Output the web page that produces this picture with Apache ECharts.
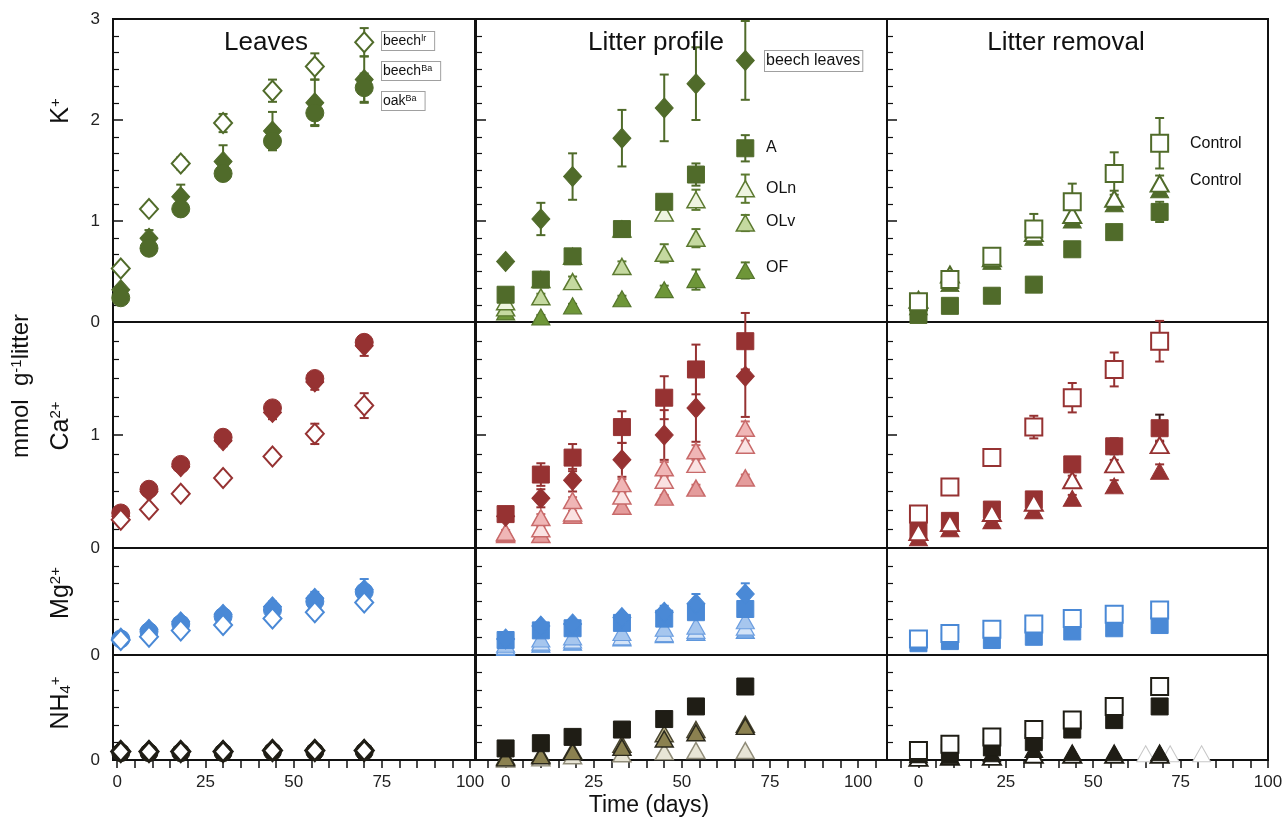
<!DOCTYPE html>
<html>
<head>
<meta charset="utf-8">
<script src="https://cdn.jsdelivr.net/npm/echarts@6/dist/echarts.min.js"></script>
<style>
  html, body { margin: 0; padding: 0; background: #ffffff; }
  #chart { width: 1284px; height: 821px; }
</style>
</head>
<body>
<div id="chart"></div>
<script>
// ---- sampling days for each experiment ----
const leavesDays  = [1, 9, 18, 30, 44, 56, 70];
const profileDays = [0, 10, 19, 33, 45, 54, 68];
const removalDays = [0, 9, 21, 33, 44, 56, 69];
const strayDays   = [65, 72, 81];

// ---- x axis ticks / labels ----
const xTickValues  = [-5, 0, 5, 10, 15, 20, 25, 30, 35, 40, 45, 50, 55, 60, 65, 70, 75, 80, 85, 90, 95, 100, 105];
const xLabelValues = [0, 25, 50, 75, 100];

// ---- y axis maxima per row (K, Ca, Mg, NH4) ----
const rowMax = [3, 2, 1, 1];

// ---- K+ : leaves ----
const kLeafBeechIr     = [0.53, 1.12, 1.57, 1.97, 2.29, 2.53, 2.77];
const kLeafBeechIrErr  = [0.02, 0.02, 0.06, 0.09, 0.11, 0.13, 0.14];
const kLeafBeechBa     = [0.32, 0.83, 1.24, 1.59, 1.89, 2.17, 2.40];
const kLeafBeechBaErr  = [0.03, 0.08, 0.12, 0.16, 0.19, 0.23, 0.23];
const kLeafOakBa       = [0.24, 0.73, 1.12, 1.47, 1.79, 2.07, 2.32];
const kLeafOakBaErr    = [0.02, 0.04, 0.04, 0.06, 0.07, 0.12, 0.14];

// ---- K+ : litter profile ----
const kProLeaves    = [0.60, 1.02, 1.44, 1.82, 2.12, 2.36, 2.59];
const kProLeavesErr = [0.04, 0.16, 0.23, 0.28, 0.33, 0.36, 0.39];
const kProA         = [0.27, 0.42, 0.65, 0.92, 1.19, 1.46, 1.72];
const kProAErr      = [0.02, 0.04, 0.04, 0.04, 0.05, 0.11, 0.13];
const kProOLn       = [0.20, 0.42, 0.65, 0.92, 1.08, 1.21, 1.32];
const kProOLnErr    = [0.02, 0.03, 0.03, 0.04, 0.06, 0.10, 0.14];
const kProOLv       = [0.14, 0.25, 0.40, 0.55, 0.68, 0.83, 0.98];
const kProOLvErr    = [0.02, 0.03, 0.05, 0.05, 0.09, 0.09, 0.08];
const kProOF        = [0.10, 0.05, 0.16, 0.23, 0.32, 0.42, 0.51];
const kProOFErr     = [0.02, 0.02, 0.02, 0.03, 0.04, 0.10, 0.08];

// ---- K+ : litter removal ----
const kRemCtrlSq     = [0.20, 0.42, 0.65, 0.92, 1.19, 1.47, 1.77];
const kRemCtrlSqErr  = [0.03, 0.05, 0.06, 0.15, 0.18, 0.21, 0.25];
const kRemCtrlTri    = [0.22, 0.47, 0.63, 0.88, 1.06, 1.22, 1.37];
const kRemCtrlTriErr = [0.02, 0.03, 0.03, 0.04, 0.05, 0.08, 0.08];
const kRemSq         = [0.07, 0.16, 0.26, 0.37, 0.72, 0.89, 1.09];
const kRemSqErr      = [0.02, 0.02, 0.02, 0.02, 0.03, 0.04, 0.10];
const kRemTri        = [0.15, 0.38, 0.60, 0.84, 1.01, 1.17, 1.31];
const kRemTriErr     = [0.02, 0.02, 0.02, 0.02, 0.03, 0.03, 0.04];

// ---- Ca2+ : leaves ----
const caLeafBeechIr    = [0.25, 0.34, 0.48, 0.62, 0.81, 1.01, 1.26];
const caLeafBeechIrErr = [0.02, 0.02, 0.03, 0.03, 0.05, 0.09, 0.11];
const caLeafBeechBa    = [0.28, 0.50, 0.72, 0.95, 1.20, 1.47, 1.79];
const caLeafBeechBaErr = [0.02, 0.03, 0.03, 0.05, 0.06, 0.07, 0.09];
const caLeafOakBa      = [0.31, 0.52, 0.74, 0.98, 1.24, 1.50, 1.82];
const caLeafOakBaErr   = [0.02, 0.02, 0.03, 0.03, 0.04, 0.05, 0.06];

// ---- Ca2+ : litter profile ----
const caProA         = [0.30, 0.65, 0.80, 1.07, 1.33, 1.58, 1.83];
const caProAErr      = [0.02, 0.10, 0.12, 0.14, 0.19, 0.22, 0.25];
const caProLeaves    = [0.28, 0.44, 0.60, 0.78, 1.00, 1.24, 1.52];
const caProLeavesErr = [0.02, 0.08, 0.10, 0.15, 0.22, 0.30, 0.36];
const caProOLv       = [0.14, 0.27, 0.42, 0.57, 0.71, 0.86, 1.06];
const caProOLvErr    = [0.02, 0.03, 0.03, 0.04, 0.05, 0.05, 0.06];
const caProOLn       = [0.13, 0.17, 0.31, 0.46, 0.60, 0.74, 0.91];
const caProOLnErr    = [0.01, 0.02, 0.02, 0.03, 0.03, 0.04, 0.04];
const caProOF        = [0.12, 0.12, 0.29, 0.37, 0.45, 0.53, 0.62];
const caProOFErr     = [0.01, 0.01, 0.02, 0.02, 0.02, 0.03, 0.03];

// ---- Ca2+ : litter removal ----
const caRemCtrlSq     = [0.30, 0.54, 0.80, 1.07, 1.33, 1.58, 1.83];
const caRemCtrlSqErr  = [0.02, 0.02, 0.02, 0.10, 0.13, 0.15, 0.18];
const caRemCtrlTri    = [0.14, 0.22, 0.31, 0.40, 0.60, 0.74, 0.91];
const caRemCtrlTriErr = [0.02, 0.02, 0.02, 0.03, 0.04, 0.04, 0.04];
const caRemSq         = [0.15, 0.24, 0.34, 0.43, 0.74, 0.90, 1.06];
const caRemSqErr      = [0.02, 0.03, 0.04, 0.05, 0.05, 0.07, 0.12];
const caRemTri        = [0.09, 0.17, 0.24, 0.33, 0.44, 0.55, 0.68];
const caRemTriErr     = [0.02, 0.02, 0.02, 0.03, 0.03, 0.05, 0.06];

// ---- Mg2+ : leaves ----
const mgLeafBeechIr    = [0.14, 0.17, 0.23, 0.28, 0.34, 0.40, 0.49];
const mgLeafBeechIrErr = [0.01, 0.01, 0.02, 0.02, 0.02, 0.03, 0.03];
const mgLeafBeechBa    = [0.16, 0.24, 0.31, 0.38, 0.45, 0.53, 0.61];
const mgLeafBeechBaErr = [0.02, 0.02, 0.03, 0.04, 0.05, 0.06, 0.10];
const mgLeafOakBa      = [0.15, 0.22, 0.29, 0.36, 0.42, 0.50, 0.59];
const mgLeafOakBaErr   = [0.01, 0.02, 0.02, 0.03, 0.03, 0.04, 0.05];

// ---- Mg2+ : litter profile ----
const mgProA         = [0.14, 0.23, 0.25, 0.30, 0.34, 0.40, 0.43];
const mgProAErr      = [0.02, 0.03, 0.03, 0.04, 0.05, 0.06, 0.07];
const mgProLeaves    = [0.15, 0.27, 0.29, 0.35, 0.40, 0.48, 0.57];
const mgProLeavesErr = [0.02, 0.03, 0.03, 0.04, 0.06, 0.09, 0.10];
const mgProOLv       = [0.10, 0.15, 0.17, 0.21, 0.25, 0.27, 0.32];
const mgProOLn       = [0.08, 0.12, 0.14, 0.17, 0.20, 0.23, 0.26];
const mgProOF        = [0.07, 0.10, 0.12, 0.16, 0.19, 0.21, 0.23];

// ---- Mg2+ : litter removal ----
const mgRemCtrlSq = [0.15, 0.20, 0.24, 0.29, 0.34, 0.38, 0.42];
const mgRemSq     = [0.11, 0.13, 0.14, 0.17, 0.22, 0.25, 0.28];

// ---- NH4+ : leaves ----
const nhLeafBeechIr = [0.08, 0.08, 0.08, 0.08, 0.09, 0.09, 0.09];
const nhLeafBeechBa = [0.09, 0.09, 0.09, 0.09, 0.10, 0.10, 0.10];
const nhLeafOakBa   = [0.07, 0.07, 0.07, 0.07, 0.08, 0.08, 0.08];

// ---- NH4+ : litter profile ----
const nhProA   = [0.11, 0.16, 0.22, 0.29, 0.39, 0.51, 0.70];
const nhProOLv = [0.03, 0.05, 0.09, 0.15, 0.25, 0.29, 0.34];
const nhProOF  = [0.02, 0.04, 0.08, 0.12, 0.20, 0.26, 0.32];
const nhProOLn = [0.01, 0.02, 0.04, 0.06, 0.08, 0.09, 0.09];

// ---- NH4+ : litter removal ----
const nhRemCtrlSq  = [0.09, 0.15, 0.22, 0.29, 0.38, 0.51, 0.70];
const nhRemSq      = [0.06, 0.07, 0.12, 0.17, 0.29, 0.38, 0.51];
const nhRemCtrlTri = [0.02, 0.03, 0.03, 0.05, 0.05, 0.05, 0.05];
const nhRemTri     = [0.05, 0.04, 0.06, 0.10, 0.07, 0.07, 0.07];
const nhStray      = [0.06, 0.06, 0.06];

// ---------------------------------------------------------------
const FONT = '"Liberation Sans", Arial, Helvetica, sans-serif';

// panel geometry (pixels) and x ranges per column
const cols = [
  { left: 113, right: 475, min: -1.2, max: 101.4 },
  { left: 476, right: 887, min: -8.4, max: 108.2 },
  { left: 887, right: 1268, min: -9, max: 100 }
];
const rows = [
  { top: 19, bottom: 322 },
  { top: 322, bottom: 548 },
  { top: 548, bottom: 655 },
  { top: 655, bottom: 760 }
];

const grids = [], xAxes = [], yAxes = [];
rows.forEach((r, ri) => {
  cols.forEach((c, ci) => {
    const bottomRow = ri === rows.length - 1;
    grids.push({
      left: c.left, top: r.top, width: c.right - c.left, height: r.bottom - r.top,
      show: true, borderColor: '#111', borderWidth: 2, backgroundColor: 'transparent',
      outerBoundsMode: 'none'
    });
    xAxes.push({
      type: 'value', gridIndex: grids.length - 1, min: c.min, max: c.max, position: 'bottom',
      axisLine: { show: false, onZero: false }, splitLine: { show: false },
      axisTick: bottomRow
        ? { show: true, customValues: xTickValues, length: 8, lineStyle: { color: '#111', width: 1.5 } }
        : { show: false },
      axisLabel: bottomRow
        ? { show: true, customValues: xLabelValues, fontSize: 17, color: '#222', fontFamily: FONT, margin: 14 }
        : { show: false }
    });
    yAxes.push({
      type: 'value', gridIndex: grids.length - 1, min: 0, max: rowMax[ri], interval: 1, position: 'left',
      axisLine: { show: false, onZero: false }, splitLine: { show: false },
      axisTick: { show: true, inside: true, length: 10, lineStyle: { color: '#111', width: 1.5 } },
      minorTick: { show: true, splitNumber: 6, length: 6, lineStyle: { color: '#111', width: 1.2 } },
      minorSplitLine: { show: false },
      axisLabel: ci === 0
        ? { show: true, fontSize: 17, color: '#222', fontFamily: FONT, margin: 13, showMaxLabel: ri === 0 }
        : { show: false }
    });
  });
});

// ---- colours ----
const green = '#506b2a', red = '#963232', blue = '#4a89d6', dark = '#1f1d15';

const SHAPES = {
  circle:   { symbol: 'circle',   size: 18 },
  diamond:  { symbol: 'diamond',  size: [18, 20] },
  square:   { symbol: 'rect',     size: 17 },
  triangle: { symbol: 'triangle', size: [18, 16] }
};

const series = [];

function errorBars(g, days, vals, errs, color) {
  series.push({
    type: 'custom', xAxisIndex: g, yAxisIndex: g, silent: true, clip: false,
    data: days.map((d, i) => [d, vals[i], errs[i]]),
    encode: { x: 0, y: 1 },
    renderItem: (params, api) => {
      const x = api.value(0), y = api.value(1), e = api.value(2);
      const p1 = api.coord([x, y + e]);
      const p2 = api.coord([x, y - e]);
      const cap = 4.5;
      const st = { stroke: color, lineWidth: 2 };
      return {
        type: 'group', children: [
          { type: 'line', shape: { x1: p1[0], y1: p1[1], x2: p2[0], y2: p2[1] }, style: st },
          { type: 'line', shape: { x1: p1[0] - cap, y1: p1[1], x2: p1[0] + cap, y2: p1[1] }, style: st },
          { type: 'line', shape: { x1: p2[0] - cap, y1: p2[1], x2: p2[0] + cap, y2: p2[1] }, style: st }
        ]
      };
    }
  });
}

function markers(g, days, vals, errs, shape, fill, stroke, bw, errColor) {
  if (errs) errorBars(g, days, vals, errs, errColor || stroke);
  const s = SHAPES[shape];
  series.push({
    type: 'scatter', xAxisIndex: g, yAxisIndex: g, silent: true, clip: false,
    symbol: s.symbol, symbolSize: s.size,
    itemStyle: { color: fill, borderColor: stroke, borderWidth: bw === undefined ? 1 : bw, opacity: 1 },
    data: days.map((d, i) => [d, vals[i]])
  });
}

// K+ row
markers(0, leavesDays, kLeafBeechBa, kLeafBeechBaErr, 'diamond', green, green);
markers(0, leavesDays, kLeafOakBa, kLeafOakBaErr, 'circle', green, green);
markers(0, leavesDays, kLeafBeechIr, kLeafBeechIrErr, 'diamond', '#ffffff', green, 2);

markers(1, profileDays, kProOF, kProOFErr, 'triangle', '#6e9638', '#55752c', 1.2);
markers(1, profileDays, kProOLv, kProOLvErr, 'triangle', '#c5d9a0', '#5c7a30', 1.5);
markers(1, profileDays, kProOLn, kProOLnErr, 'triangle', '#eef4e0', '#5c7a30', 1.5);
markers(1, profileDays, kProA, kProAErr, 'square', green, green);
markers(1, profileDays, kProLeaves, kProLeavesErr, 'diamond', green, green);

markers(2, removalDays, kRemTri, kRemTriErr, 'triangle', green, green);
markers(2, removalDays, kRemSq, kRemSqErr, 'square', green, green);
markers(2, removalDays, kRemCtrlTri, kRemCtrlTriErr, 'triangle', '#ffffff', green, 2);
markers(2, removalDays, kRemCtrlSq, kRemCtrlSqErr, 'square', '#ffffff', green, 2);

// Ca2+ row
markers(3, leavesDays, caLeafBeechBa, caLeafBeechBaErr, 'diamond', red, red);
markers(3, leavesDays, caLeafOakBa, caLeafOakBaErr, 'circle', red, red);
markers(3, leavesDays, caLeafBeechIr, caLeafBeechIrErr, 'diamond', '#ffffff', red, 2);

markers(4, profileDays, caProOF, caProOFErr, 'triangle', '#e49c9c', '#c86a6a', 1.5);
markers(4, profileDays, caProOLn, caProOLnErr, 'triangle', '#fae2e2', '#c86a6a', 1.5);
markers(4, profileDays, caProOLv, caProOLvErr, 'triangle', '#f0b6b6', '#c86a6a', 1.5);
markers(4, profileDays, caProLeaves, caProLeavesErr, 'diamond', red, red);
markers(4, profileDays, caProA, caProAErr, 'square', red, red);

markers(5, removalDays, caRemTri, caRemTriErr, 'triangle', red, red);
markers(5, removalDays, caRemSq, caRemSqErr, 'square', red, red, 1, '#3a1a1a');
markers(5, removalDays, caRemCtrlTri, caRemCtrlTriErr, 'triangle', '#ffffff', red, 2);
markers(5, removalDays, caRemCtrlSq, caRemCtrlSqErr, 'square', '#ffffff', red, 2);

// Mg2+ row
markers(6, leavesDays, mgLeafBeechBa, mgLeafBeechBaErr, 'diamond', blue, blue);
markers(6, leavesDays, mgLeafOakBa, mgLeafOakBaErr, 'circle', blue, blue);
markers(6, leavesDays, mgLeafBeechIr, mgLeafBeechIrErr, 'diamond', '#ffffff', blue, 2);

markers(7, profileDays, mgProOF, null, 'triangle', '#7aaae6', '#5f97dc', 1.2);
markers(7, profileDays, mgProOLn, null, 'triangle', '#d3e3f7', '#6c9ee0', 1.2);
markers(7, profileDays, mgProOLv, null, 'triangle', '#a6c6ee', '#6c9ee0', 1.2);
markers(7, profileDays, mgProA, mgProAErr, 'square', blue, blue);
markers(7, profileDays, mgProLeaves, mgProLeavesErr, 'diamond', blue, blue);

markers(8, removalDays, mgRemSq, null, 'square', blue, blue);
markers(8, removalDays, mgRemCtrlSq, null, 'square', '#ffffff', blue, 2);

// NH4+ row
markers(9, leavesDays, nhLeafBeechBa, null, 'diamond', dark, dark);
markers(9, leavesDays, nhLeafOakBa, null, 'circle', dark, dark);
markers(9, leavesDays, nhLeafBeechIr, null, 'diamond', '#ffffff', dark, 3);

markers(10, profileDays, nhProOLn, null, 'triangle', '#e8e5d6', '#8f8b78', 1.5);
markers(10, profileDays, nhProOLv, null, 'triangle', '#bdb48a', '#4a4630', 1.5);
markers(10, profileDays, nhProOF, null, 'triangle', '#8b8150', '#2a281c', 1.5);
markers(10, profileDays, nhProA, null, 'square', dark, dark);

markers(11, strayDays, nhStray, null, 'triangle', '#ffffff', '#c8c8c8', 1);
markers(11, removalDays, nhRemCtrlTri, null, 'triangle', '#ffffff', dark, 2);
markers(11, removalDays, nhRemTri, null, 'triangle', dark, dark);
markers(11, removalDays, nhRemSq, null, 'square', dark, dark);
markers(11, removalDays, nhRemCtrlSq, null, 'square', '#ffffff', dark, 2);

// ---- text ----
function txt(x, y, text, size, opts) {
  return Object.assign({
    type: 'text', x: x, y: y, silent: true, z: 50,
    style: Object.assign({
      text: text, fill: '#111', font: size + 'px ' + FONT,
      align: 'center', verticalAlign: 'middle'
    }, (opts && opts.style) || {})
  }, (opts && opts.el) || {});
}

const supRich = (main, sup) => ({
  m: { fontSize: main, fontFamily: FONT, fill: '#111', verticalAlign: 'bottom' },
  s: { fontSize: sup, fontFamily: FONT, fill: '#111', verticalAlign: 'top' },
  b: { fontSize: sup, fontFamily: FONT, fill: '#111', verticalAlign: 'bottom' }
});

const boxStyle = {
  align: 'left', backgroundColor: '#ffffff', borderColor: '#a0a0a0', borderWidth: 1,
  padding: [2, 8, 2, 1]
};

const keyRich = {
  n: { fontSize: 14, fontFamily: FONT, fill: '#111', verticalAlign: 'bottom' },
  t: { fontSize: 9, fontFamily: FONT, fill: '#111', verticalAlign: 'top' }
};

const graphics = [
  txt(266, 43, 'Leaves', 26),
  txt(656, 43, 'Litter profile', 26),
  txt(1066, 43, 'Litter removal', 26),
  txt(649, 806, 'Time (days)', 23),

  // row titles (rotated)
  txt(21, 386, '', 24, { el: { rotation: Math.PI / 2 },
    style: { text: '{m|mmol  g}{s|-1}{m|litter}', rich: supRich(24, 15) } }),
  txt(61, 111, '', 24, { el: { rotation: Math.PI / 2 },
    style: { text: '{m|K}{s|+}', rich: supRich(25, 15) } }),
  txt(61, 426, '', 24, { el: { rotation: Math.PI / 2 },
    style: { text: '{m|Ca}{s|2+}', rich: supRich(25, 15) } }),
  txt(61, 593, '', 24, { el: { rotation: Math.PI / 2 },
    style: { text: '{m|Mg}{s|2+}', rich: supRich(25, 15) } }),
  txt(61, 703, '', 24, { el: { rotation: Math.PI / 2 },
    style: { text: '{m|NH}{b|4}{s|+}', rich: supRich(25, 15) } }),

  // leaves key
  txt(382, 41, '', 14, { style: Object.assign({ text: '{n|beech}{t|lr}', rich: keyRich }, boxStyle) }),
  txt(382, 71, '', 14, { style: Object.assign({ text: '{n|beech}{t|Ba}', rich: keyRich }, boxStyle) }),
  txt(382, 101, '', 14, { style: Object.assign({ text: '{n|oak}{t|Ba}', rich: keyRich }, boxStyle) }),

  // profile key
  txt(765, 61, 'beech leaves', 16, { style: Object.assign({}, boxStyle, { padding: [2, 2, 2, 1] }) }),
  txt(766, 148, 'A', 16, { style: { align: 'left' } }),
  txt(766, 189, 'OLn', 16, { style: { align: 'left' } }),
  txt(766, 222, 'OLv', 16, { style: { align: 'left' } }),
  txt(766, 268, 'OF', 16, { style: { align: 'left' } }),

  // removal key
  txt(1190, 144, 'Control', 16, { style: { align: 'left' } }),
  txt(1190, 181, 'Control', 16, { style: { align: 'left' } })
];

const chart = echarts.init(document.getElementById('chart'), null, { renderer: 'canvas' });
chart.setOption({
  animation: false,
  backgroundColor: '#ffffff',
  grid: grids,
  xAxis: xAxes,
  yAxis: yAxes,
  series: series,
  graphic: { elements: graphics }
});
</script>
</body>
</html>
